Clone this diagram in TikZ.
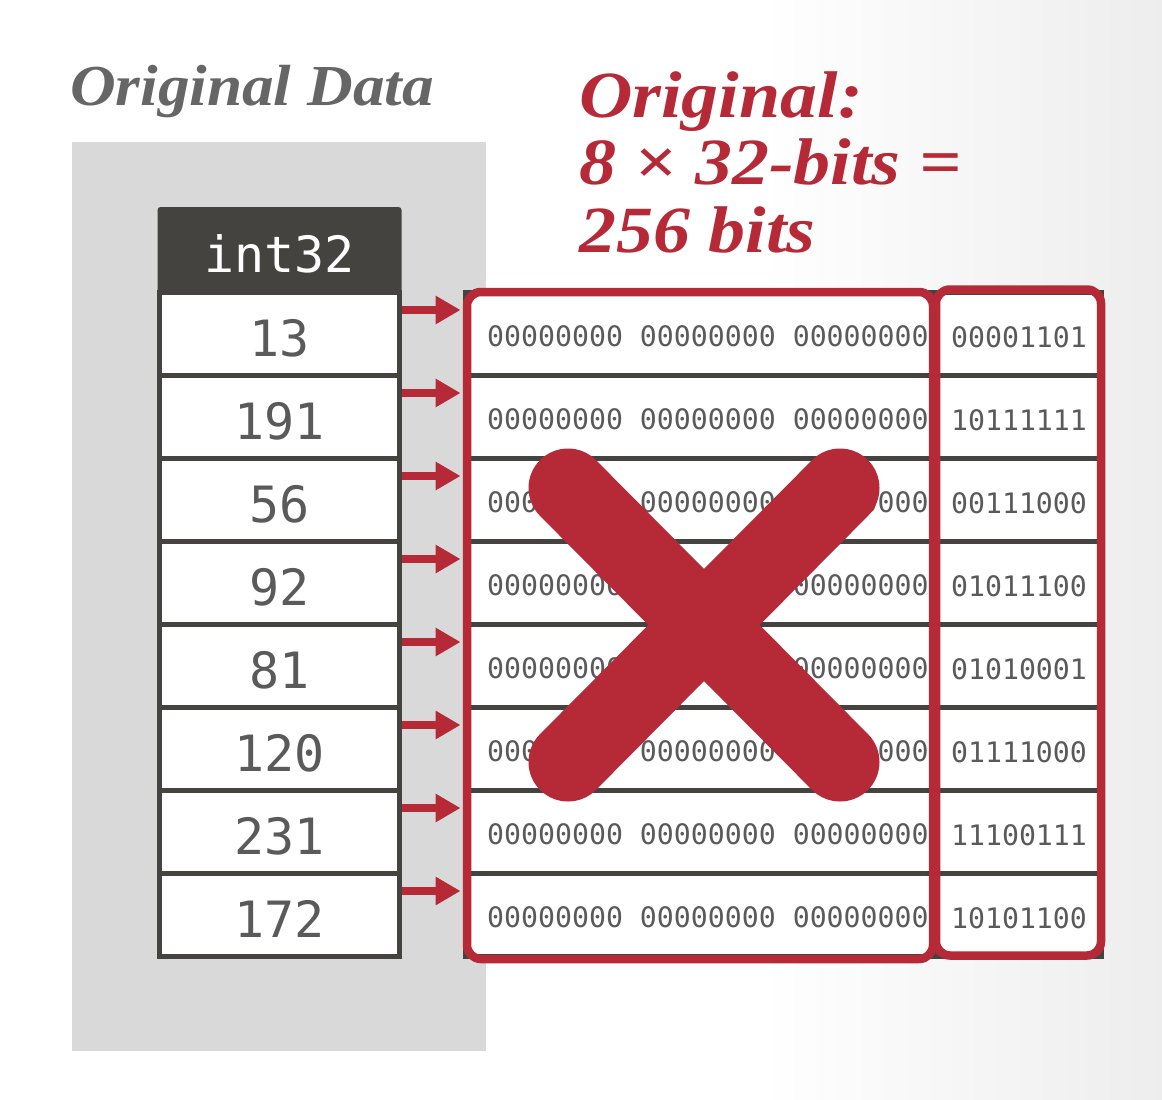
\documentclass[tikz,border=0pt]{standalone}
\usepackage{fontspec}
\setmainfont{Liberation Serif}
\newfontfamily\monofont{DejaVu Sans Mono}
\usetikzlibrary{arrows.meta}
\definecolor{myred}{HTML}{B52A36}
\definecolor{dark}{HTML}{45433F}
\definecolor{panel}{HTML}{D9D9D9}
\definecolor{txtgray}{HTML}{5A5A5A}
\definecolor{titlegray}{HTML}{666666}
\tikzset{
  cell/.style={draw=dark, line width=5pt, fill=white, minimum width=240pt, minimum height=83pt, inner sep=0pt, text height=45pt, text depth=0pt, font=\monofont\fontsize{50}{50}\selectfont, text=txtgray},
  hdr/.style={fill=dark, rounded corners=3pt, minimum width=244pt, minimum height=86pt, inner sep=0pt, text height=44pt, text depth=0pt, font=\monofont\fontsize{50}{50}\selectfont, text=white},
  wide/.style={draw=dark, line width=5pt, fill=white, minimum width=470pt, minimum height=83pt, inner sep=0pt},
  narrow/.style={draw=dark, line width=5pt, fill=white, minimum width=165pt, minimum height=83pt, inner sep=0pt, text height=27pt, text depth=0pt, font=\monofont\fontsize{28.2}{28.2}\selectfont, text=txtgray},
  bits/.style={inner sep=0pt, anchor=west, font=\monofont\fontsize{28.2}{28.2}\selectfont, text=txtgray},
  arr/.style={draw=myred, line width=8pt, -{Triangle[length=25pt,width=27pt]}},
  redbox/.style={draw=myred, line width=8.5pt, rounded corners=14pt},
  bigx/.style={draw=myred, line width=79pt, line cap=round},
}
\begin{document}
\begin{tikzpicture}[x=1pt,y=-1pt]
\useasboundingbox (0,0) rectangle (1162,1100);
% background
\fill[white] (0,0) rectangle (1162,1100);
\shade[left color=white, right color=black!7, shading=axis] (760,0) rectangle (1162,1100);
% grey panel
\fill[panel] (72,142) rectangle (486,1051);
% title
\node[anchor=base west, inner sep=0pt, text=titlegray, font=\fontsize{58}{58}\selectfont\bfseries\itshape, xscale=1.09, transform shape] (title) at (70,105) {Original Data};
\node[anchor=base west, inner sep=0pt, text=myred, align=left, font=\fontsize{66}{67.5}\selectfont\bfseries\itshape, xscale=1.12, transform shape] (note) at (579,252) {Original:\\8 × 32-bits =\\256 bits};
% header
\node[hdr] (h) at (279.5,250) {int32};
% left cells
\foreach \v [count=\i] in {13,191,56,92,81,120,231,172}{
  \node[cell] (c\i) at (279.5,{333.5+83*(\i-1)}) {\v};
}
% right table
\foreach \b [count=\i] in {00001101,10111111,00111000,01011100,01010001,01111000,11100111,10101100}{
  \node[wide] (w\i) at (700,{333.5+83*(\i-1)}) {};
  \node[narrow] (n\i) at (1019,{333.5+83*(\i-1)}) {\b};
  \node[bits] (t\i) at (487,{336+83*(\i-1)}) {00000000 00000000 00000000};
}
% arrows
\foreach \i in {1,...,8}{
  \draw[arr] ([yshift=23.5pt]c\i.east) -- ([yshift=23.5pt,xshift=-2pt]w\i.west);
}
% red boxes
\coordinate (ra1) at (467,292);
\coordinate (ra2) at (933,959);
\coordinate (rb1) at (936,289.5);
\coordinate (rb2) at (1101,955.5);
\draw[redbox] (ra1) rectangle (ra2);
\draw[redbox] (rb1) rectangle (rb2);
% big X
\coordinate (x1) at (568,488);
\coordinate (x2) at (840,762);
\coordinate (x3) at (840,488);
\coordinate (x4) at (568,762);
\draw[bigx] (x1) -- (x2);
\draw[bigx] (x3) -- (x4);
\end{tikzpicture}
\end{document}
